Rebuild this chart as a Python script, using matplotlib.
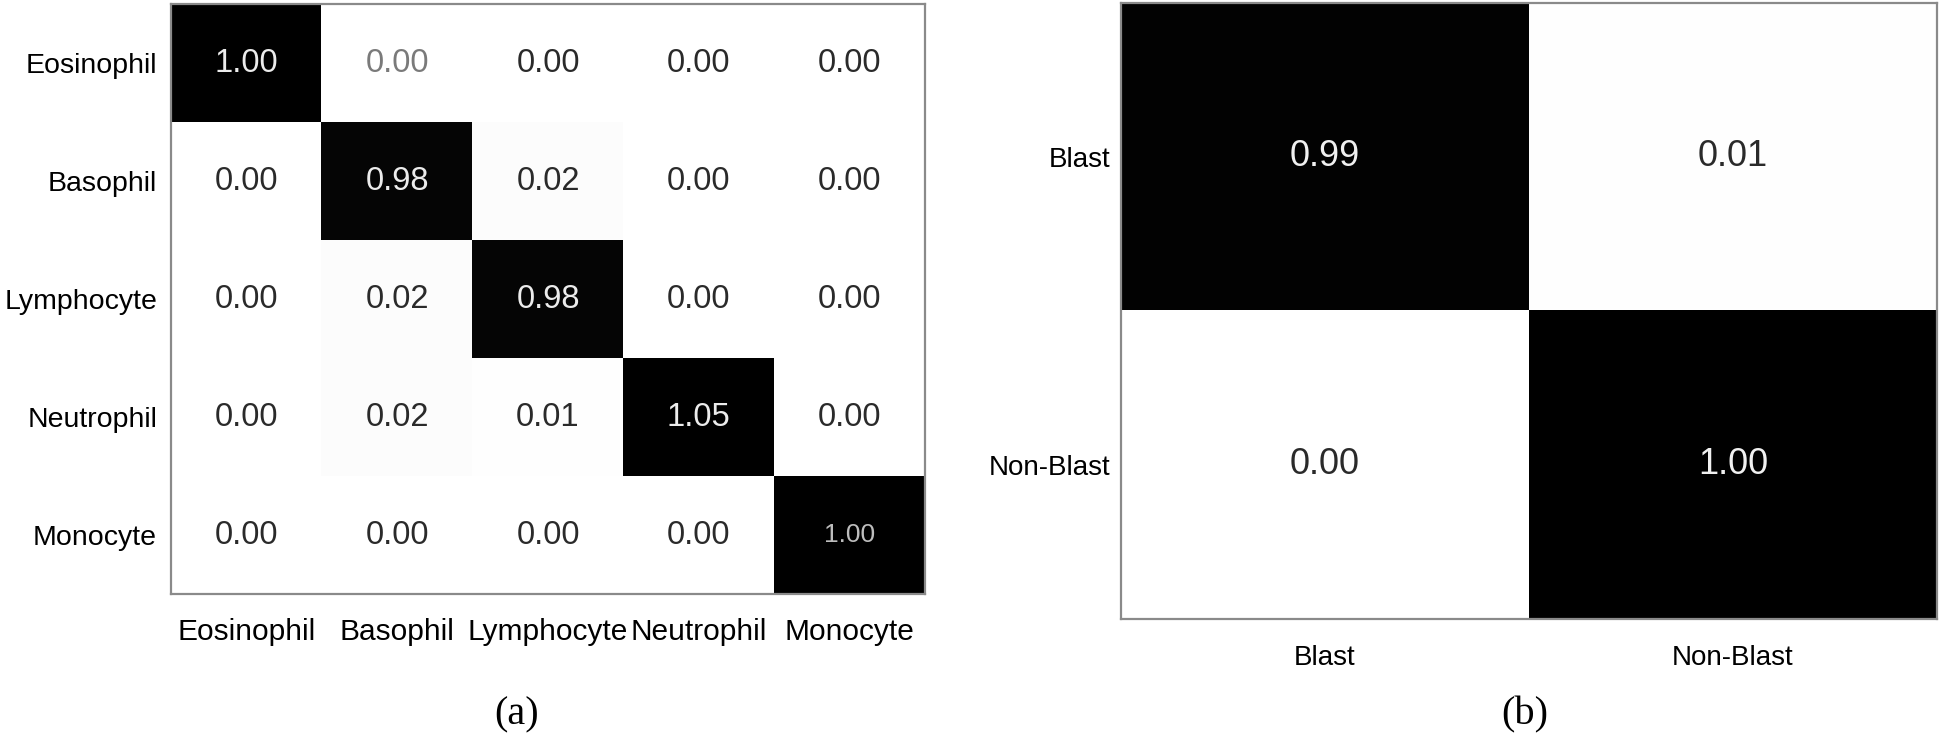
import numpy as np
import matplotlib
matplotlib.use("Agg")
import matplotlib.pyplot as plt

plt.rcParams['font.family'] = ['Liberation Sans', 'DejaVu Sans']

# (a) five white-cell classes
cells_a = ['Eosinophil', 'Basophil', 'Lymphocyte', 'Neutrophil', 'Monocyte']
cm_a = [[1.00, 0.00, 0.00, 0.00, 0.00],
        [0.00, 0.98, 0.02, 0.00, 0.00],
        [0.00, 0.02, 0.98, 0.00, 0.00],
        [0.00, 0.02, 0.01, 1.05, 0.00],
        [0.00, 0.00, 0.00, 0.00, 1.00]]

# (b) blast vs non-blast
cells_b = ['Blast', 'Non-Blast']
cm_b = [[0.99, 0.01],
        [0.00, 1.00]]

fig = plt.figure(figsize=(19.45, 7.33), dpi=100)
W, H = 1945, 733

def frame(ax):
    for s in ax.spines.values():
        s.set_color('#8a8a8a')
        s.set_linewidth(1.6)

# ---- left panel
ax1 = fig.add_axes([171 / W, 1 - 594 / H, 754 / W, 590 / H])
a = np.array(cm_a)
ax1.imshow(a, cmap='Greys', vmin=0, vmax=1.0, aspect='auto', interpolation='nearest')
for i in range(a.shape[0]):
    for j in range(a.shape[1]):
        v = a[i, j]
        col = '#ececec' if v > 0.5 else '#2a2a2a'
        fs = 23.5
        if i == 0 and j == 1:
            col = '#7a7a7a'
        if i == 4 and j == 4:  # smaller, greyer label in the reference
            col, fs = '#bdbdbd', 19
        ax1.text(j, i, f'{v:.2f}', ha='center', va='center', color=col, fontsize=fs)
ax1.set_xticks(range(len(cells_a)))
ax1.set_xticklabels(cells_a, fontsize=21.5)
ax1.set_yticks(range(len(cells_a)))
ax1.set_yticklabels(cells_a, fontsize=20.5)
ax1.tick_params(length=0)
ax1.tick_params(axis='x', pad=17)
ax1.tick_params(axis='y', pad=10)
frame(ax1)
fig.text(517 / W, 1 - 715 / H, '(a)', family='Liberation Serif', fontsize=29,
         ha='center', va='center')

# ---- right panel
ax2 = fig.add_axes([1121 / W, 1 - 619 / H, 816 / W, 616 / H])
b = np.array(cm_b)
ax2.imshow(b, cmap='Greys', vmin=0, vmax=1.0, aspect='auto', interpolation='nearest')
for i in range(b.shape[0]):
    for j in range(b.shape[1]):
        v = b[i, j]
        col = '#f0f0f0' if v > 0.5 else '#2a2a2a'
        ax2.text(j, i, f'{v:.2f}', ha='center', va='center', color=col, fontsize=26)
ax2.set_xticks(range(len(cells_b)))
ax2.set_xticklabels(cells_b, fontsize=20)
ax2.set_yticks(range(len(cells_b)))
ax2.set_yticklabels(cells_b, fontsize=20)
ax2.tick_params(length=0)
ax2.tick_params(axis='x', pad=19)
ax2.tick_params(axis='y', pad=8)
frame(ax2)
fig.text(1525 / W, 1 - 715 / H, '(b)', family='Liberation Serif', fontsize=29,
         ha='center', va='center')

fig.savefig('out.png', dpi=100, facecolor='white')
